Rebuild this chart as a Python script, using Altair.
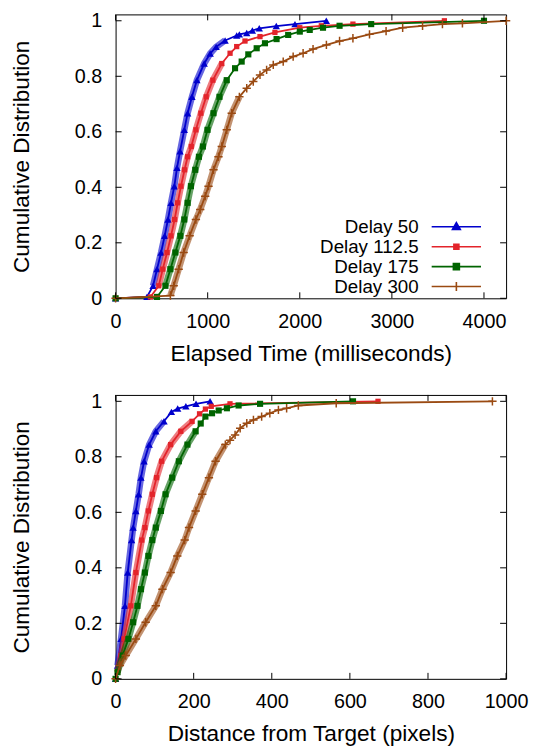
import altair as alt
import pandas as pd

names = ["Delay 50", "Delay 112.5", "Delay 175", "Delay 300"]
colors = ["#0000cc", "#e3242b", "#006400", "#9a4a12"]

# ---- Elapsed time (ms) CDFs ----
t50_x = [0, 340, 407, 450, 494, 533, 569, 602, 638, 667, 700, 746, 782, 829, 883, 962, 1027, 1092, 1189, 1315, 1344, 1424, 1485, 1560, 1745, 1948, 2288]
t50_y = [0, 0.005, 0.045, 0.105, 0.165, 0.225, 0.284, 0.344, 0.404, 0.47, 0.53, 0.607, 0.667, 0.726, 0.786, 0.846, 0.882, 0.906, 0.929, 0.947, 0.951, 0.956, 0.965, 0.973, 0.981, 0.988, 1.0]
t112_x = [0, 378, 469, 512, 559, 602, 641, 674, 710, 749, 782, 822, 872, 926, 984, 1056, 1153, 1243, 1315, 1405, 1568, 1730, 2000, 2234, 2577, 3570]
t112_y = [0, 0.005, 0.045, 0.105, 0.165, 0.225, 0.284, 0.344, 0.404, 0.463, 0.51, 0.547, 0.607, 0.667, 0.726, 0.786, 0.846, 0.883, 0.907, 0.927, 0.943, 0.958, 0.975, 0.982, 0.988, 1.0]
t175_x = [0, 450, 541, 595, 649, 703, 746, 782, 818, 865, 905, 948, 998, 1063, 1128, 1207, 1297, 1369, 1441, 1532, 1622, 1748, 1874, 2000, 2108, 2252, 2432, 2775, 4000]
t175_y = [0, 0.005, 0.045, 0.105, 0.165, 0.225, 0.284, 0.344, 0.404, 0.463, 0.51, 0.547, 0.607, 0.667, 0.726, 0.786, 0.829, 0.853, 0.879, 0.901, 0.919, 0.934, 0.949, 0.961, 0.967, 0.975, 0.982, 0.988, 1.0]
t300_x = [0, 595, 631, 685, 739, 804, 872, 919, 973, 1009, 1063, 1117, 1153, 1207, 1261, 1344, 1424, 1495, 1568, 1640, 1712, 1820, 1928, 2036, 2144, 2289, 2432, 2577, 2757, 2937, 3117, 3333, 3549, 3766, 4240]
t300_y = [0, 0.01, 0.045, 0.105, 0.165, 0.225, 0.284, 0.32, 0.368, 0.404, 0.463, 0.51, 0.547, 0.607, 0.667, 0.726, 0.757, 0.781, 0.805, 0.823, 0.841, 0.853, 0.871, 0.883, 0.898, 0.913, 0.927, 0.937, 0.951, 0.963, 0.975, 0.982, 0.988, 0.991, 1.0]

# ---- Distance from target (pixels) CDFs ----
d50_x = [0, 5, 14, 24, 31, 41, 45, 52, 59, 65, 73, 86, 103, 124, 143, 159, 180, 206, 242]
d50_y = [0, 0.048, 0.144, 0.263, 0.383, 0.5, 0.545, 0.605, 0.665, 0.725, 0.784, 0.844, 0.892, 0.928, 0.962, 0.974, 0.982, 0.991, 1.0]
d112_x = [0, 5, 14, 22, 39, 52, 67, 75, 84, 94, 105, 118, 141, 167, 196, 215, 230, 245, 293, 672]
d112_y = [0, 0.024, 0.084, 0.144, 0.263, 0.383, 0.5, 0.545, 0.605, 0.665, 0.725, 0.784, 0.844, 0.892, 0.928, 0.955, 0.972, 0.982, 0.991, 1.0]
d175_x = [0, 5, 18, 33, 45, 56, 65, 75, 84, 94, 103, 116, 128, 145, 162, 184, 205, 218, 230, 247, 264, 285, 315, 370, 608]
d175_y = [0, 0.024, 0.084, 0.144, 0.204, 0.263, 0.323, 0.383, 0.443, 0.5, 0.545, 0.605, 0.665, 0.725, 0.784, 0.844, 0.892, 0.92, 0.945, 0.957, 0.967, 0.975, 0.985, 0.991, 1.0]
d300_x = [0, 11, 26, 52, 77, 103, 120, 141, 158, 177, 188, 205, 222, 239, 256, 281, 293, 306, 319, 336, 353, 374, 395, 417, 438, 468, 565, 965]
d300_y = [0, 0.048, 0.084, 0.144, 0.204, 0.263, 0.323, 0.383, 0.443, 0.5, 0.545, 0.605, 0.665, 0.725, 0.784, 0.844, 0.86, 0.879, 0.903, 0.921, 0.933, 0.945, 0.957, 0.969, 0.975, 0.985, 0.993, 1.0]

time_ticks = [0, 1000, 2000, 3000, 4000]
dist_ticks = [0, 200, 400, 600, 800, 1000]
y_ticks = [0, 0.2, 0.4, 0.6, 0.8, 1]

# ---- styles ----
FONT = "Liberation Sans"
FS_TICK = 19.8
FS_TITLE = 22.7
FS_LEG = 18.8
W, H = 392, 285
TICK = 6
marker_shapes = ["triangle-up", "square", "square", "M-1,0H1M0,-1V1"]
marker_filled = [True, True, True, False]
marker_sizes = [55, 28, 38, 70]
# legend samples: line + marker, drawn to the right of the right-aligned labels
legend_paths = [
    "M4.5,0H14.4M9.46,-0.85L10.25,0.55H8.67ZM9.46,-0.4L9.85,0.3H9.07Z",
    "M4.5,0H14.4M8.96,-0.5H9.96V0.5H8.96ZM9.26,-0.2H9.66V0.2H9.26Z",
    "M4.5,0H14.4M8.86,-0.6H10.06V0.6H8.86ZM9.16,-0.3H9.76V0.3H9.16Z",
    "M4.5,0H14.4M9.46,-0.9V0.9",
]
band_max_time = [0.93, 0.88, 0.80, 0.75]
band_max_dist = [0.95, 0.93, 0.90, 0.85]


def make_df(xs, ys):
    rows = []
    for name, xv, yv in zip(names, xs, ys):
        for i, (a, b) in enumerate(zip(xv, yv)):
            rows.append({"series": name, "x": a, "y": b, "i": i})
    return pd.DataFrame(rows)


def panel(xs, ys, xdomain, xticks, xtitle, band_max):
    df = make_df(xs, ys)
    x_enc = alt.X("x:Q", scale=alt.Scale(domain=xdomain, nice=False, zero=False),
                  axis=alt.Axis(values=xticks, format="d", title=xtitle))
    y_enc = alt.Y("y:Q", scale=alt.Scale(domain=[0, 1.023], nice=False, zero=False),
                  axis=alt.Axis(values=y_ticks, format="~g", title="Cumulative Distribution"))
    layers = []
    base = alt.Chart(df)
    for k, name in enumerate(names):
        sub = base.transform_filter(alt.datum.series == name)
        layers.append(sub.transform_filter((alt.datum.y > 0.008) & (alt.datum.y <= band_max[k]))
                      .mark_line(color=colors[k], strokeWidth=6.5, opacity=0.6)
                      .encode(x=x_enc, y=y_enc, order="i:Q"))
        layers.append(sub.mark_line(color=colors[k], strokeWidth=1.8)
                      .encode(x=x_enc, y=y_enc, order="i:Q"))
        layers.append(sub.mark_point(shape=marker_shapes[k], filled=marker_filled[k],
                                     color=colors[k], size=marker_sizes[k], opacity=1,
                                     strokeWidth=1.5)
                      .encode(x=x_enc, y=y_enc))
    # inward mirrored ticks
    xt = alt.Chart(pd.DataFrame({"x": xticks}))
    yt = alt.Chart(pd.DataFrame({"y": y_ticks}))
    layers.append(xt.mark_rule(color="black", strokeWidth=1).encode(x=x_enc, y=alt.value(H), y2=alt.value(H - TICK)))
    layers.append(xt.mark_rule(color="black", strokeWidth=1).encode(x=x_enc, y=alt.value(0), y2=alt.value(TICK)))
    layers.append(yt.mark_rule(color="black", strokeWidth=1).encode(y=y_enc, x=alt.value(0), x2=alt.value(TICK)))
    layers.append(yt.mark_rule(color="black", strokeWidth=1).encode(y=y_enc, x=alt.value(W), x2=alt.value(W - TICK)))
    # legend (labels right-aligned, line samples to their right)
    leg = alt.Legend(orient="none", legendX=285.4, legendY=203.8, title=None,
                     labelAlign="right", labelOffset=0, symbolOffset=0,
                     labelFont=FONT, labelFontSize=FS_LEG, labelBaseline="middle",
                     labelColor="black", labelLimit=400, symbolSize=100, symbolStrokeWidth=1.6,
                     rowPadding=-3.2, padding=0, symbolOpacity=1)
    layers.append(alt.Chart(pd.DataFrame({"entry": names}))
                  .mark_point(clip=True, filled=False, strokeWidth=1.6)
                  .encode(x=alt.value(-300), y=alt.value(-300),
                          color=alt.Color("entry:N", scale=alt.Scale(domain=names, range=colors), legend=leg),
                          shape=alt.Shape("entry:N", scale=alt.Scale(domain=names, range=legend_paths), legend=leg)))
    return alt.layer(*layers).properties(width=W, height=H)


top = panel([t50_x, t112_x, t175_x, t300_x], [t50_y, t112_y, t175_y, t300_y],
            [0, 4240], time_ticks, "Elapsed Time (milliseconds)", band_max_time)
bottom = panel([d50_x, d112_x, d175_x, d300_x], [d50_y, d112_y, d175_y, d300_y],
               [0, 1000], dist_ticks, "Distance from Target (pixels)", band_max_dist)

chart = (alt.vconcat(top, bottom, spacing=24)
         .properties(padding={"left": 2, "top": 0, "right": 0, "bottom": 0})
         .configure_view(stroke="black", strokeWidth=1)
         .configure_axis(domain=False, ticks=False, grid=False, labelFlush=False, labelOverlap=False,
                         labelFont=FONT, labelFontSize=FS_TICK, labelColor="black",
                         titleFont=FONT, titleFontSize=FS_TITLE, titleFontWeight="normal", titleColor="black")
         .configure_axisX(labelPadding=13, titlePadding=10, minExtent=34, maxExtent=34)
         .configure_axisY(labelPadding=14, titlePadding=42, minExtent=40, maxExtent=40))

chart.save("out.html", embed_options={"renderer": "svg", "actions": False})
